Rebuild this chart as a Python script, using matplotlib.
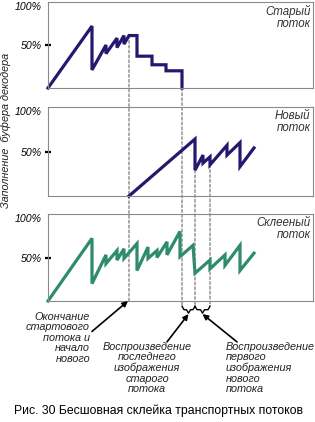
import matplotlib.pyplot as plt
from matplotlib.patches import ConnectionPatch

# time axis runs 0..265 (left edge of the panels to right edge), fill in %
old_t = [0, 44, 44, 58, 58, 69, 69, 76, 76, 81, 89, 89, 104, 104, 118, 118, 134, 134]
old_v = [0, 72, 21, 50, 40, 58, 47, 61, 51, 61, 61, 37, 37, 27, 27, 20, 20, 0]

new_t = [81, 147, 147, 155, 155, 162, 162, 179, 179, 192, 192, 206]
new_v = [0, 64, 29, 46, 37, 44, 35, 57, 46, 60, 33, 54]

spliced_t = [0, 44, 44, 58, 58, 69, 69, 76, 76, 89, 89, 100, 100, 109, 109, 119, 119,
             132, 132, 145, 147, 162, 162, 177, 177, 192, 192, 206]
spliced_v = [0, 72, 20, 53, 43, 58, 47, 60, 49, 66, 35, 62, 49, 58, 50, 68, 53,
             80, 51, 64, 32, 47, 37, 53, 41, 64, 35, 55]

# event times (dashed lines) and where each dashed line starts
t_splice = 81        # end of old stream data, start of new
t_old_last = 134     # last picture of old stream shown
t_new_first = 147    # first picture of new stream shown
t_new_second = 162

panel_names = ["Старый\nпоток", "Новый\nпоток", "Склееный\nпоток"]
ylabel = "Заполнение  буфера декодера"
caption = "Рис. 30 Бесшовная склейка транспортных потоков"
note_splice = "Окончание\nстартового\nпотока и\nначало\nнового"
note_old = "Воспроизведение\nпоследнего\nизображения\nстарого\nпотока"
note_new = "Воспроизведение\nпервого\nизображения\nнового\nпотока"

blue = "#26186e"
green = "#2e8b6b"
W, H = 315, 422

plt.rcParams['font.family'] = ['Liberation Sans', 'DejaVu Sans']
fig = plt.figure(figsize=(W / 100, H / 100), dpi=100)

# panel boxes in pixels: (top, bottom)
boxes = [(2, 88), (107, 196), (214, 301)]
left, right = 48, 313
axes = []
for (top, bot), name in zip(boxes, panel_names):
    ax = fig.add_axes([left / W, 1 - bot / H, (right - left) / W, (bot - top) / H])
    ax.set_facecolor('none')
    ax.set_xlim(0, 265)
    ax.set_ylim(0, 100)
    ax.set_xticks([])
    ax.set_yticks([50])
    ax.set_yticklabels(["50%"], fontsize=7.6, style='italic')
    ax.tick_params(axis='y', direction='inout', length=5, width=1.6, pad=2, colors='black')
    for s in ax.spines.values():
        s.set_color('#8a8a8a')
        s.set_linewidth(0.8)
    ax.text(-0.022, 100, "100%", transform=ax.get_yaxis_transform(), ha='right', va='top',
            fontsize=7.6, style='italic')
    ax.text(0.99, 0.97, name, transform=ax.transAxes, ha='right', va='top',
            fontsize=8.3, style='italic', color='#333333', linespacing=1.0)
    axes.append(ax)

ax1, ax2, ax3 = axes
ax1.plot(old_t, old_v, color=blue, lw=2.3, clip_on=False, solid_joinstyle='miter')
ax2.plot(new_t, new_v, color=blue, lw=2.3, clip_on=False, solid_joinstyle='miter')
ax3.plot(spliced_t, spliced_v, color=green, lw=2.3, clip_on=False, solid_joinstyle='miter')

# dashed guide lines running down through the panels
guides = [(ax1, t_splice, 61, 0), (ax1, t_old_last, 0, -6),
          (ax2, t_new_first, 29, -6), (ax2, t_new_second, 35, -6)]
for a, t, v0, v1 in guides:
    con = ConnectionPatch(xyA=(t, v0), coordsA=a.transData, xyB=(t, v1), coordsB=ax3.transData,
                          linestyle=(0, (3, 2)), color='#555555', lw=0.7, zorder=-1)
    fig.add_artist(con)

# braces under the two display intervals
def brace(a, b):
    m = (a + b) / 2
    xs = [a, a + 2, m - 2, m, m + 2, b - 2, b]
    ys = [-6, -10, -10, -14, -10, -10, -6]
    ax3.plot(xs, ys, color='black', lw=1.0, clip_on=False)

brace(t_old_last, t_new_first)
brace(t_new_first, t_new_second)

arrow = dict(arrowstyle='-|>', color='black', lw=1.2, mutation_scale=8, shrinkA=0, shrinkB=0)
ax3.annotate('', xy=(t_splice - 1, 0), xytext=(44, -35), arrowprops=arrow, annotation_clip=False)
ax3.annotate('', xy=((t_old_last + t_new_first) / 2, -15), xytext=(119, -47),
             arrowprops=arrow, annotation_clip=False)
ax3.annotate('', xy=((t_new_first + t_new_second) / 2, -15), xytext=(189, -47),
             arrowprops=arrow, annotation_clip=False)

note_kw = dict(fontsize=7.8, style='italic', va='top', linespacing=1.05, color='#222222')
fig.text(90 / W, 1 - 312 / H, note_splice, ha='right', multialignment='right', **note_kw)
fig.text(147 / W, 1 - 342 / H, note_old, ha='center', multialignment='center', **note_kw)
fig.text(226 / W, 1 - 342 / H, note_new, ha='left', multialignment='left', **note_kw)

fig.text(6 / W, 1 - 130 / H, ylabel, rotation=90, ha='center', va='center',
         fontsize=7.8, style='italic', color='#222222')
fig.text(158 / W, 1 - 411 / H, caption, ha='center', va='center', fontsize=8.8)

fig.savefig("out.png", dpi=100)
